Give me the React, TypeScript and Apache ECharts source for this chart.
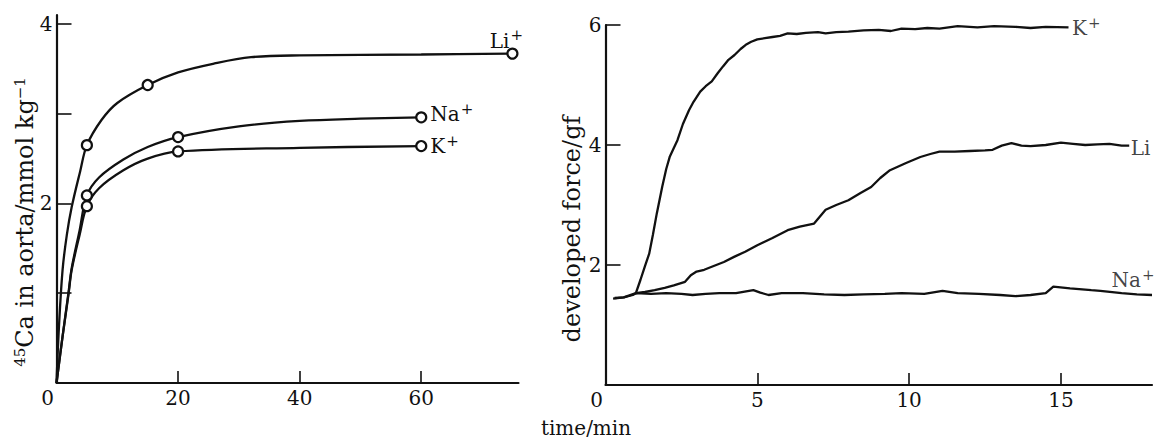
import React, { useEffect, useRef } from "react";
import * as echarts from "echarts";

// ---------- Left panel: 45Ca in aorta (mmol/kg) vs time (min) ----------
const liUptakeCurve: [number, number][] = [
  [0, 0], [0.4, 0.62], [1, 1.26], [1.7, 1.65], [2.5, 1.96], [3.9, 2.36], [5, 2.65],
  [7.4, 2.93], [10, 3.12], [15, 3.32], [20, 3.46], [26, 3.56], [32, 3.63], [40, 3.65],
  [60, 3.66], [75, 3.67],
];
const naUptakeCurve: [number, number][] = [
  [0, 0], [1, 0.52], [2, 1.02], [2.5, 1.28], [3.8, 1.7], [5, 2.09], [7, 2.29], [11, 2.49],
  [15, 2.63], [20, 2.74], [30, 2.86], [40, 2.92], [50, 2.945], [60, 2.96],
];
const kUptakeCurve: [number, number][] = [
  [0, 0], [1, 0.52], [2, 1.0], [2.5, 1.26], [3.8, 1.65], [5, 1.97], [7, 2.17], [11, 2.37],
  [15, 2.5], [20, 2.58], [40, 2.62], [60, 2.64],
];
const liUptakePoints: [number, number][] = [[5, 2.65], [15, 3.32], [75, 3.67]];
const naUptakePoints: [number, number][] = [[5, 2.09], [20, 2.74], [60, 2.96]];
const kUptakePoints: [number, number][] = [[5, 1.97], [20, 2.58], [60, 2.64]];

const leftXTicks = [20, 40, 60];
const leftXLabels = [0, 20, 40, 60];
const leftYTicks = [1, 2, 3, 4];
const leftYLabels = [2, 4];

// ---------- Right panel: developed force (gf) vs time (min) ----------
const kForce: [number, number][] = [
  [0.3, 1.45], [0.6, 1.46], [0.9, 1.5], [1.0, 1.53], [1.15, 1.75], [1.3, 1.98], [1.44, 2.19],
  [1.56, 2.5], [1.69, 2.86], [1.87, 3.31], [2.0, 3.6], [2.12, 3.81], [2.25, 3.95], [2.37, 4.08],
  [2.55, 4.35], [2.75, 4.58], [2.9, 4.72], [3.12, 4.89], [3.3, 4.98], [3.5, 5.06], [3.7, 5.2],
  [3.87, 5.31], [4.05, 5.42], [4.25, 5.5], [4.45, 5.6], [4.62, 5.67], [4.8, 5.72], [5.0, 5.76],
  [5.25, 5.78], [5.5, 5.8], [5.75, 5.82], [6.0, 5.86], [6.3, 5.85], [6.6, 5.87], [7.0, 5.88],
  [7.25, 5.86], [7.6, 5.88], [8.0, 5.89], [8.5, 5.91], [9.0, 5.92], [9.4, 5.9], [9.75, 5.94],
  [10.2, 5.93], [10.6, 5.95], [11.0, 5.94], [11.6, 5.98], [12.25, 5.96], [12.8, 5.98],
  [13.5, 5.97], [14.0, 5.95], [14.5, 5.97], [15.25, 5.96],
];
const liForce: [number, number][] = [
  [1.0, 1.53], [1.3, 1.55], [1.62, 1.58], [1.95, 1.62], [2.25, 1.66], [2.62, 1.72], [2.81, 1.83],
  [3.0, 1.89], [3.25, 1.92], [3.5, 1.97], [3.9, 2.05], [4.25, 2.14], [4.6, 2.22], [5.0, 2.33],
  [5.5, 2.45], [6.0, 2.58], [6.4, 2.64], [6.87, 2.69], [7.05, 2.8], [7.25, 2.92], [7.6, 3.0],
  [8.0, 3.08], [8.4, 3.2], [8.75, 3.3], [9.05, 3.45], [9.37, 3.58], [9.9, 3.7], [10.37, 3.8],
  [10.7, 3.85], [11.0, 3.89], [11.5, 3.89], [12.0, 3.9], [12.5, 3.91], [12.75, 3.92],
  [13.05, 3.99], [13.37, 4.03], [13.7, 3.99], [14.0, 3.98], [14.5, 4.0], [15.0, 4.04],
  [15.4, 4.02], [15.8, 4.0], [16.2, 4.01], [16.6, 4.02], [17.0, 3.99], [17.25, 3.99],
];
const naForce: [number, number][] = [
  [0.25, 1.44], [0.6, 1.46], [1.0, 1.53], [1.5, 1.52], [2.0, 1.53], [2.5, 1.52], [2.87, 1.5],
  [3.3, 1.52], [3.75, 1.53], [4.3, 1.53], [4.87, 1.58], [5.1, 1.54], [5.37, 1.5], [5.8, 1.53],
  [6.5, 1.53], [7.2, 1.51], [7.87, 1.5], [8.5, 1.51], [9.2, 1.52], [9.75, 1.53], [10.5, 1.52],
  [11.1, 1.57], [11.6, 1.53], [12.3, 1.52], [13.0, 1.5], [13.5, 1.48], [14.0, 1.5], [14.5, 1.53],
  [14.75, 1.64], [15.3, 1.61], [16.0, 1.58], [16.3, 1.57], [17.0, 1.53], [17.5, 1.51], [18.0, 1.5],
];

const rightXTicks = [5, 10, 15];
const rightXLabels = [0, 5, 10, 15];
const rightYTicks = [2, 4, 6];
const rightYLabels = [2, 4, 6];

const FONT = "'DejaVu Serif', 'Liberation Serif', serif";
const INK = "#111";

const ionRich = {
  n: { fontFamily: FONT, fontSize: 20, color: INK },
  s: { fontFamily: FONT, fontSize: 15, color: INK, padding: [0, 0, 11, 1] },
};

function zeroFormatter(v: number) {
  return v === 0 ? "{z|0}" : "{t|" + String(v) + "}";
}
const tickRich = {
  z: { fontFamily: FONT, fontSize: 20, color: INK, padding: [0, 18, 0, 0] },
  t: { fontFamily: FONT, fontSize: 20, color: INK },
};

function xAxis(gridIndex: number, max: number, ticks: number[], labels: number[]) {
  return {
    type: "value",
    gridIndex,
    min: 0,
    max,
    axisLine: { show: true, onZero: false, lineStyle: { color: INK, width: 2.2 } },
    axisTick: { show: true, inside: true, length: 12, customValues: ticks, lineStyle: { color: INK, width: 1.6 } },
    axisLabel: { show: true, customValues: labels, margin: 5, formatter: zeroFormatter, rich: tickRich, color: INK },
    splitLine: { show: false },
  };
}
function yAxis(gridIndex: number, max: number, ticks: number[], labels: number[]) {
  return {
    type: "value",
    gridIndex,
    min: 0,
    max,
    axisLine: { show: true, onZero: false, lineStyle: { color: INK, width: 2.2 } },
    axisTick: { show: true, inside: true, length: 15, customValues: ticks, lineStyle: { color: INK, width: 1.6 } },
    axisLabel: { show: true, customValues: labels, margin: 4, color: INK, fontFamily: FONT, fontSize: 20 },
    splitLine: { show: false },
  };
}

function curve(data: [number, number][], grid: number, smooth: number | boolean) {
  return {
    type: "line",
    xAxisIndex: grid,
    yAxisIndex: grid,
    data,
    smooth,
    showSymbol: false,
    silent: true,
    lineStyle: { color: INK, width: 2.3 },
    z: 2,
  };
}

function markers(points: [number, number][], label: any) {
  const data = points.map((p, i) =>
    i === points.length - 1 ? { value: p, label: { show: true, ...label } } : { value: p }
  );
  return {
    type: "scatter",
    xAxisIndex: 0,
    yAxisIndex: 0,
    data,
    symbol: "circle",
    symbolSize: 10,
    silent: true,
    itemStyle: { color: "#fff", borderColor: INK, borderWidth: 2.2, opacity: 1 },
    z: 5,
  };
}

function endLabel(trace: [number, number][], label: any) {
  return { value: trace[trace.length - 1], label: { show: true, ...label } };
}

export default function App() {
  const ref = useRef<HTMLDivElement>(null);
  useEffect(() => {
    document.body.style.margin = "0";
    if (!ref.current) return;
    const chart = echarts.init(ref.current, null, { renderer: "svg" });
    chart.setOption({
      animation: false,
      backgroundColor: "#fff",
      textStyle: { fontFamily: FONT, color: INK },
      grid: [
        { left: 56.5, top: 15, width: 462, height: 368 },
        { left: 605.5, top: 25, width: 546.5, height: 360 },
      ],
      xAxis: [xAxis(0, 76, leftXTicks, leftXLabels), xAxis(1, 18, rightXTicks, rightXLabels)],
      yAxis: [yAxis(0, 4.1, leftYTicks, leftYLabels), yAxis(1, 6, rightYTicks, rightYLabels)],
      series: [
        curve(liUptakeCurve, 0, 0.35),
        curve(naUptakeCurve, 0, 0.35),
        curve(kUptakeCurve, 0, 0.35),
        markers(liUptakePoints, { position: "inside", offset: [-6, -13], formatter: "{n|Li}{s|+}", rich: ionRich }),
        markers(naUptakePoints, { position: "right", distance: 3, offset: [0, -3], formatter: "{n|Na}{s|+}", rich: ionRich }),
        markers(kUptakePoints, { position: "right", distance: 3, offset: [0, 0], formatter: "{n|K}{s|+}", rich: ionRich }),
        curve(kForce, 1, false),
        curve(liForce, 1, false),
        curve(naForce, 1, false),
        {
          type: "scatter",
          xAxisIndex: 1,
          yAxisIndex: 1,
          symbolSize: 1,
          silent: true,
          itemStyle: { color: "rgba(0,0,0,0)" },
          data: [
            endLabel(kForce, { position: "right", distance: 3, offset: [0, 1], formatter: "{n|K}{s|+}", rich: ionRich }),
            endLabel(liForce, { position: "right", distance: 1, offset: [0, 2], formatter: "{n|Li}", rich: ionRich }),
            endLabel(naForce, { position: "inside", offset: [-19, -15], formatter: "{n|Na}{s|+}", rich: ionRich }),
          ],
        },
      ],
      graphic: [
        {
          type: "text",
          x: 25,
          y: 222,
          rotation: Math.PI / 2,
          style: {
            text: "{s|45}{n|Ca in aorta/mmol kg}{s|−1}",
            align: "center",
            verticalAlign: "middle",
            rich: {
              n: { fontFamily: FONT, fontSize: 24, fill: INK },
              s: { fontFamily: FONT, fontSize: 15, fill: INK, padding: [0, 0, 10, 0] },
            },
          },
        },
        {
          type: "text",
          x: 572,
          y: 229,
          rotation: Math.PI / 2,
          style: { text: "developed force/gf", align: "center", verticalAlign: "middle", fontFamily: FONT, fontSize: 24, fill: INK },
        },
        {
          type: "text",
          x: 586,
          y: 428,
          style: { text: "time/min", align: "center", verticalAlign: "middle", fontFamily: FONT, fontSize: 20, fill: INK },
        },
      ],
    });
    return () => chart.dispose();
  }, []);
  return <div ref={ref} style={{ width: 1155, height: 441 }} />;
}
